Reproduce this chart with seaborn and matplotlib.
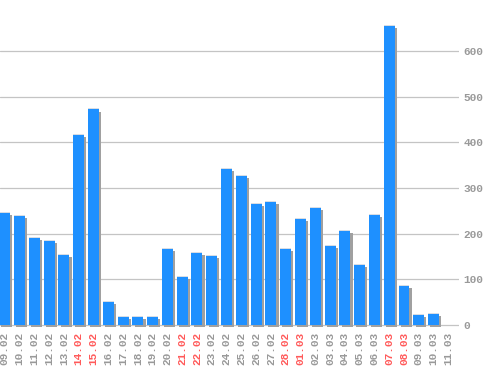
import matplotlib
matplotlib.use("Agg")
import matplotlib.pyplot as plt
import matplotlib.patheffects as pe
import seaborn as sns
import pandas as pd

dates = ["09.02", "10.02", "11.02", "12.02", "13.02", "14.02", "15.02", "16.02",
         "17.02", "18.02", "19.02", "20.02", "21.02", "22.02", "23.02", "24.02",
         "25.02", "26.02", "27.02", "28.02", "01.03", "02.03", "03.03", "04.03",
         "05.03", "06.03", "07.03", "08.03", "09.03", "10.03", "11.03"]
values = [245, 239, 191, 184, 153, 416, 472, 50, 18, 18, 18, 166, 105, 158, 151,
          341, 326, 265, 269, 166, 232, 256, 173, 206, 131, 241, 655, 85, 22, 24, 0]
weekends = ["14.02", "15.02", "21.02", "22.02", "28.02", "01.03", "07.03", "08.03"]
yticks = [0, 100, 200, 300, 400, 500, 600]

df = pd.DataFrame({"date": dates, "value": values})

sns.set_style("white")
plt.rcParams["font.family"] = ["Liberation Mono", "DejaVu Sans Mono"]

fig = plt.figure(figsize=(4.98, 3.70), dpi=100)
ax = fig.add_axes([0.0, 42 / 370, 459 / 498, 328 / 370])

sns.barplot(data=df, x="date", y="value", order=dates, color="#1e90ff",
            saturation=1, width=0.74, ax=ax, zorder=3)

for p in ax.patches:
    p.set_linewidth(0)
    p.set_path_effects([
        pe.SimplePatchShadow(offset=(1.6, -1.6), shadow_rgbFace="#a0a0a0", alpha=1.0, rho=1),
        pe.SimplePatchShadow(offset=(0, 0.75), shadow_rgbFace="#d8dde4", alpha=1.0, rho=1),
        pe.Normal(),
    ])

ax.set_xlim(-0.32, 30.72)
ax.set_ylim(-6.6, 711.6)
ax.set_yticks(yticks)
ax.yaxis.tick_right()
ax.yaxis.grid(True, color="#c4c4c4", linewidth=0.9, zorder=0)
ax.xaxis.grid(False)
ax.set_axisbelow(True)
for s in ax.spines.values():
    s.set_visible(False)

ax.tick_params(axis="y", length=0, pad=3, labelsize=8, labelcolor="#999999")
ax.tick_params(axis="x", length=0, pad=3, labelsize=8)
for lab in ax.get_yticklabels():
    lab.set_fontweight("bold")
ax.set_xticks(range(len(dates)))
ax.set_xticklabels(dates, rotation=90, fontweight="bold")
for lab in ax.get_xticklabels():
    lab.set_color("#ff5a5a" if lab.get_text() in weekends else "#999999")
    lab.set_horizontalalignment("center")

ax.set_xlabel("")
ax.set_ylabel("")

fig.savefig("out.png", dpi=100, facecolor="white")
